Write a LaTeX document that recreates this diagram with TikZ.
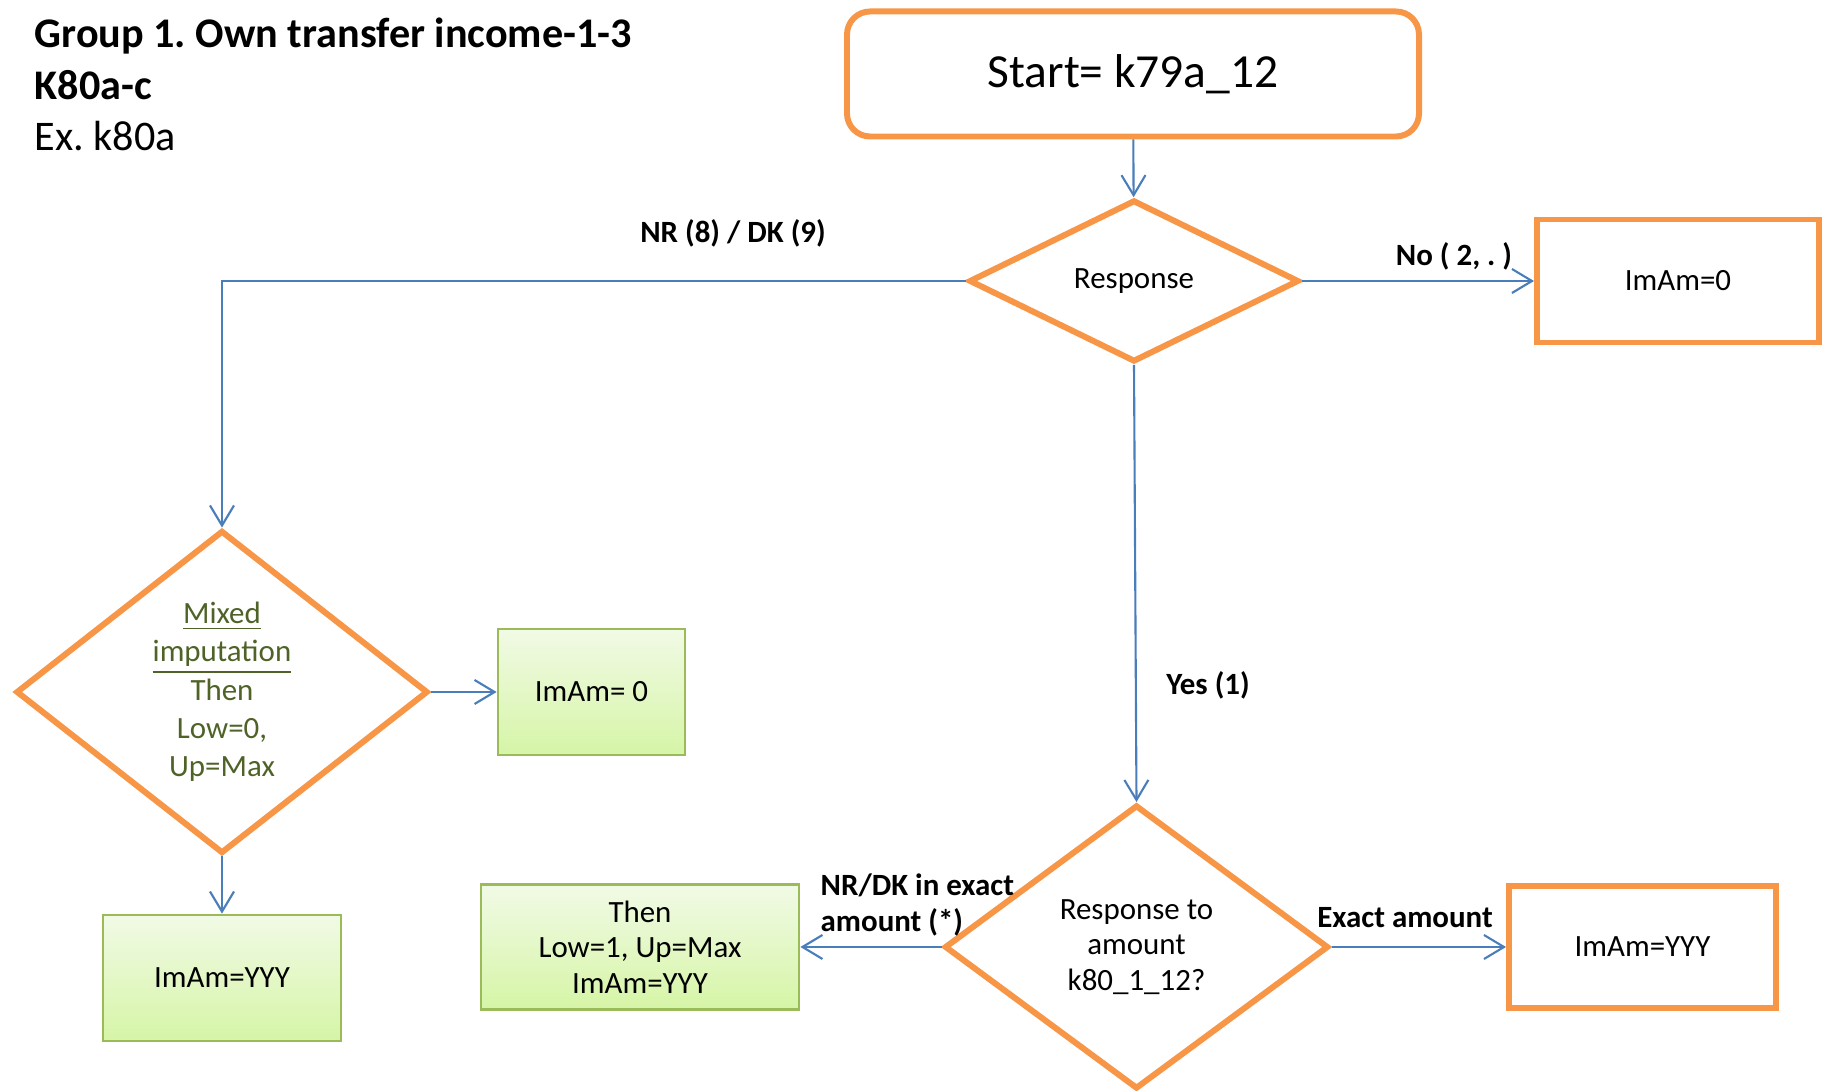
\documentclass[tikz,border=0pt]{standalone}
\usepackage{fontspec}
\setmainfont{Carlito}
\usepackage{tikz}
\usetikzlibrary{shapes.geometric,arrows.meta}
\frenchspacing

\definecolor{boxorange}{HTML}{F79646}
\definecolor{lineblue}{HTML}{4A7EBB}
\definecolor{boxgreen}{HTML}{9BBB59}
\definecolor{greentop}{HTML}{F1FAE6}
\definecolor{greenbot}{HTML}{D6F5A6}
\definecolor{textgreen}{HTML}{4F6228}

\begin{document}
\begin{tikzpicture}[
  >={Straight Barb[length=2mm,width=2.4mm]},
  every node/.style={font=\fontsize{8.8}{10.1}\selectfont},
  flow/.style={->,draw=lineblue,line width=0.6pt},
  decision/.style={diamond,draw=boxorange,line width=1.7pt,inner sep=0pt,align=center},
  outcome/.style={rectangle,draw=boxorange,line width=1.7pt,align=center},
  imputed/.style={rectangle,draw=boxgreen,line width=0.8pt,top color=greentop,bottom color=greenbot,align=center},
  answer/.style={font=\bfseries\fontsize{8.8}{10.1}\selectfont,align=left}
]
  \useasboundingbox (0,0) rectangle (18.24,10.91);

  % heading
  \node[anchor=west,inner sep=0pt,align=left,font=\fontsize{12}{14.7}\selectfont] (title) at (0.34,10.065)
    {\textbf{Group 1. Own transfer income-1-3}\\ \textbf{K80a-c}\\ Ex. k80a};

  % top part
  \node[outcome,rounded corners=0.23cm,minimum width=5.72cm,minimum height=1.25cm,
        font=\fontsize{13.5}{16}\selectfont] (start) at (11.33,10.17) {Start= k79a\_12};
  \node[decision,minimum width=3.3cm,minimum height=1.62cm,shape aspect=2] (resp) at (11.34,8.10) {Response};
  \node[outcome,minimum width=2.82cm,minimum height=1.23cm] (nozero) at (16.78,8.10) {ImAm=0};

  % left branch
  \node[decision,minimum width=4.12cm,minimum height=3.23cm,shape aspect=1.27,text=textgreen,
        font=\fontsize{8.8}{10.9}\selectfont] (mixed) at (2.22,3.99)
    {\underline{Mixed}\\ \underline{imputation}\\ Then\\ Low=0,\\ Up=Max};
  \node[imputed,minimum width=1.87cm,minimum height=1.26cm] (mixzero) at (5.915,3.99) {ImAm= 0};
  \node[imputed,minimum width=2.38cm,minimum height=1.26cm] (mixyyy) at (2.22,1.13) {ImAm=YYY};

  % lower branch
  \node[decision,minimum width=3.84cm,minimum height=2.84cm,shape aspect=1.35] (amount) at (11.365,1.44)
    {Response to\\ amount\\ k80\_1\_12?};
  \node[imputed,minimum width=3.18cm,minimum height=1.25cm] (partial) at (6.40,1.44)
    {Then\\ Low=1, Up=Max\\ ImAm=YYY};
  \node[outcome,minimum width=2.67cm,minimum height=1.22cm] (exact) at (16.425,1.44) {ImAm=YYY};

  % answers
  \node[answer] (nrdk) at (7.33,8.58) {NR (8) / DK (9)};
  \node[answer] (no) at (14.54,8.35) {No ( 2, . )};
  \node[answer] (yes) at (12.08,4.06) {Yes (1)};
  \node[answer,anchor=west,inner sep=0pt] (nrdkamt) at (8.20,1.86) {NR/DK in exact\\ amount (*)};
  \node[answer] (exactlbl) at (14.05,1.73) {Exact amount};

  % connectors
  \draw[flow] (start) -- (resp);
  \draw[flow] (resp.west) -| (mixed.north);
  \draw[flow] (resp.east) -- (nozero.west);
  \draw[flow] (resp.south) -- (amount.north);
  \draw[flow] (mixed.east) -- (mixzero.west);
  \draw[flow] (mixed.south) -- (mixyyy.north);
  \draw[flow] (amount.west) -- (partial.east);
  \draw[flow] (amount.east) -- (exact.west);
\end{tikzpicture}
\end{document}
